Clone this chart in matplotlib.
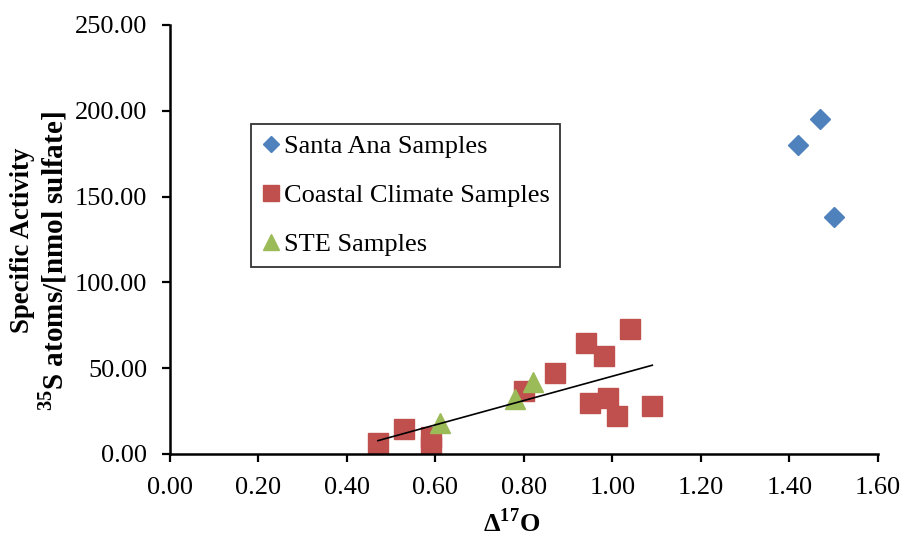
import numpy as np
import matplotlib
matplotlib.use("Agg")
from matplotlib import pyplot as plt

# Δ17O (x) and specific activity (y) for each sample group
santa_ana_x = [1.47, 1.42, 1.50]
santa_ana_y = [195.0, 180.0, 138.0]

coastal_x = [0.47, 0.53, 0.59, 0.59, 0.80, 0.87, 0.94, 0.98, 1.04, 0.95, 0.99, 1.01, 1.09]
coastal_y = [6.5, 14.5, 10.0, 4.0, 36.5, 47.0, 64.5, 57.0, 73.0, 29.5, 32.5, 22.0, 28.0]

ste_x = [0.61, 0.78, 0.82]
ste_y = [18.0, 32.0, 42.0]

x_ticks = np.arange(0, 1.61, 0.2)
y_ticks = np.arange(0, 251, 50)

plt.rcParams["font.family"] = ["Liberation Serif", "DejaVu Serif"]
plt.rcParams["mathtext.fontset"] = "custom"
plt.rcParams["mathtext.rm"] = "Liberation Serif"
plt.rcParams["mathtext.bf"] = "Liberation Serif:bold"

fig = plt.figure(figsize=(9.07, 5.37), dpi=100)
ax = fig.add_axes([0.1874, 0.1546, 0.7806, 0.7989])

ax.plot(santa_ana_x, santa_ana_y, linestyle="none", marker="D", ms=10.5,
        color="#4F81BD", label="Santa Ana Samples")
ax.plot(coastal_x, coastal_y, linestyle="none", marker="s", ms=14,
        color="#C0504D", label="Coastal Climate Samples")
ax.plot(ste_x, ste_y, linestyle="none", marker="^", ms=14,
        color="#9BBB59", label="STE Samples")

# linear trend through coastal + STE samples
fit_x = np.array(coastal_x + ste_x)
fit_y = np.array(coastal_y + ste_y)
slope, intercept = np.polyfit(fit_x, fit_y, 1)
line_x = np.array([fit_x.min(), fit_x.max()])
ax.plot(line_x, slope * line_x + intercept, color="black", lw=1.2)

ax.set_xlim(0, 1.6)
ax.set_ylim(0, 250)
ax.set_xticks(x_ticks)
ax.set_yticks(y_ticks)
ax.set_xticklabels([f"{v:.2f}" for v in x_ticks])
ax.set_yticklabels([f"{v:.2f}" for v in y_ticks])
ax.tick_params(labelsize=19, width=1.6, length=5.5, direction="out",
               colors="black", pad=11)

for side in ("top", "right"):
    ax.spines[side].set_visible(False)
for side in ("left", "bottom"):
    ax.spines[side].set_linewidth(1.8)

fig.text(0.5645, 1 - 523 / 537, "Δ$^{\\mathbf{17}}$O", fontsize=19,
         fontweight="bold", ha="center", va="center")
fig.text(23 / 907, 1 - 240 / 537, "Specific Activity", fontsize=19.3,
         fontweight="bold", rotation=90, ha="center", va="center")
fig.text(53 / 907, 1 - 261 / 537, "$^{\\mathbf{35}}$S atoms/[nmol sulfate]",
         fontsize=21, fontweight="bold", rotation=90, ha="center", va="center")

leg = ax.legend(loc="upper left", bbox_to_anchor=(0.1144, 0.769), fontsize=19,
                frameon=True, fancybox=False, handlelength=0.7, handletextpad=0.15,
                labelspacing=0.97, borderpad=0.4, borderaxespad=0, markerscale=0.8)
leg.get_frame().set_edgecolor("black")
leg.get_frame().set_linewidth(1.3)

fig.savefig("out.png", dpi=100)
